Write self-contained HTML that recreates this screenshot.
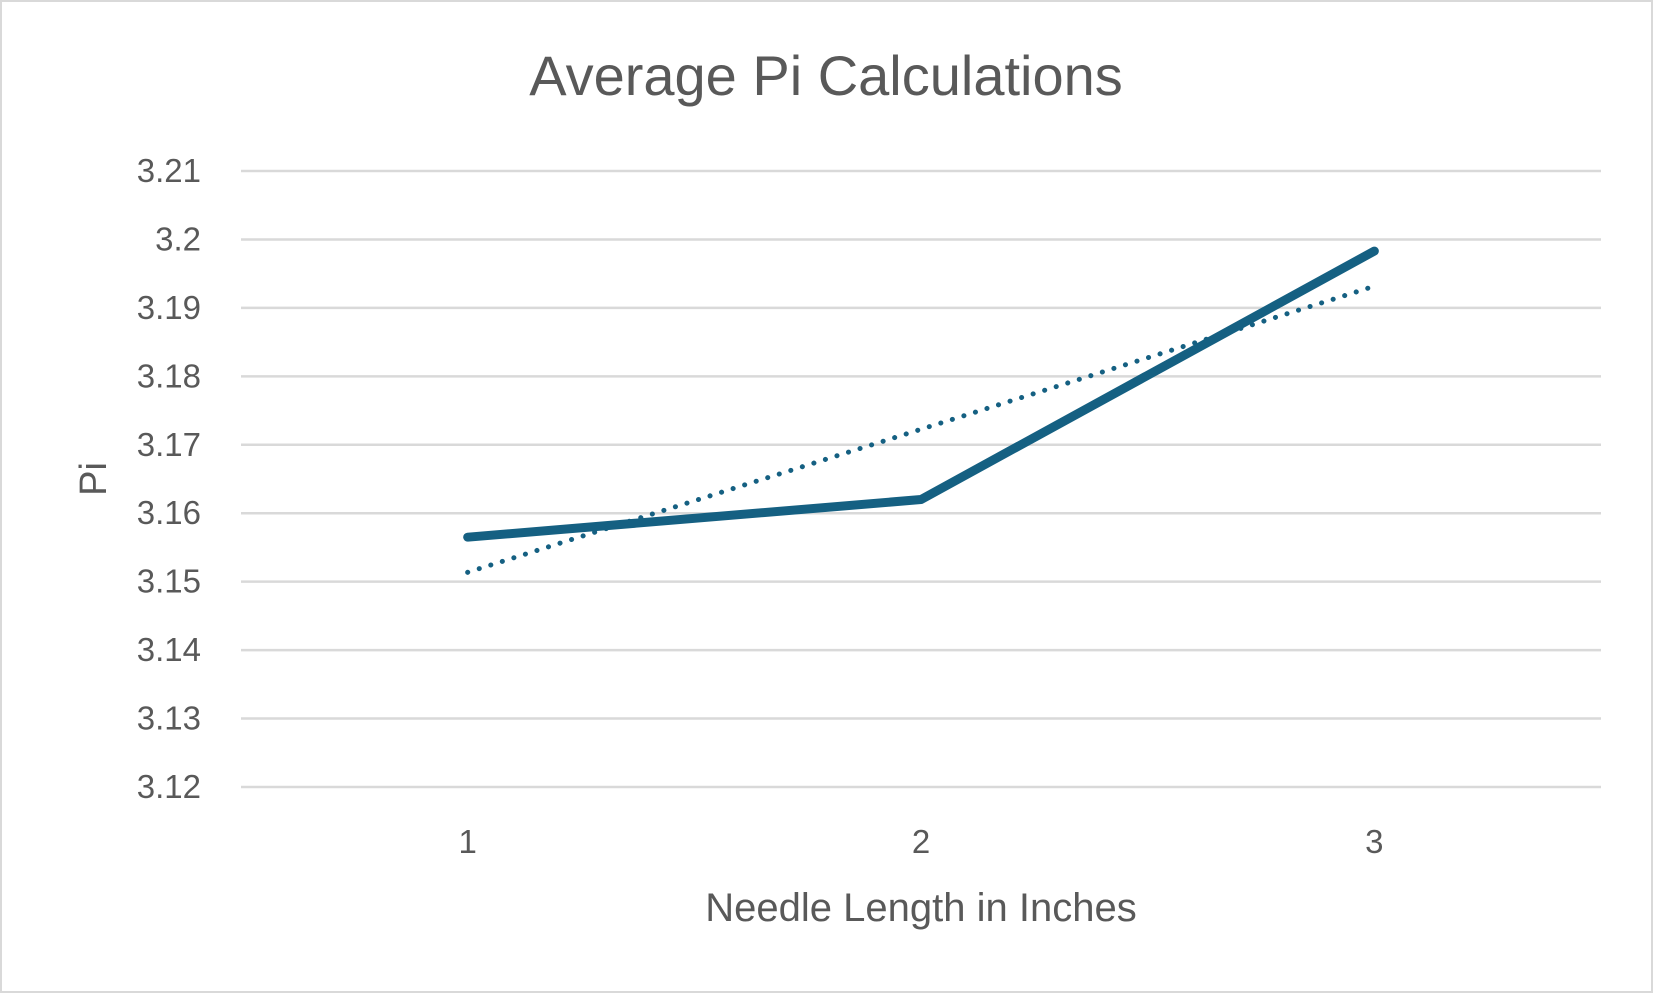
<!DOCTYPE html>
<html><head><meta charset="utf-8">
<style>
html,body{margin:0;padding:0;background:#fff;}
svg{display:block;font-family:"Liberation Sans",sans-serif;}
</style></head>
<body>
<svg id="chart" width="1653" height="993" viewBox="0 0 1653 993">
<rect x="1" y="1" width="1651" height="991" fill="#fff" stroke="#d9d9d9" stroke-width="2"/>
<text x="826" y="95" text-anchor="middle" font-size="56" fill="#595959">Average Pi Calculations</text>
<g id="grid"></g>
<g id="yticks"></g>
<g id="xticks"></g>
<text transform="translate(106,479) rotate(-90)" text-anchor="middle" font-size="38" fill="#595959">Pi</text>
<text x="921" y="921" text-anchor="middle" font-size="40" fill="#595959">Needle Length in Inches</text>
<g id="series"></g>
</svg>
<script>
const categories = [1, 2, 3];
const piValues = [3.1565, 3.162, 3.1983];
const yTickLabels = ["3.12","3.13","3.14","3.15","3.16","3.17","3.18","3.19","3.2","3.21"];
const yMin = 3.12, yMax = 3.21;
const NS = "http://www.w3.org/2000/svg";
const plotL = 241, plotR = 1601, plotT = 171, plotB = 787;
const catW = (plotR - plotL) / categories.length;
function xPos(i){ return plotL + catW * (i + 0.5); }
function yPos(v){ return plotB - (v - yMin) / (yMax - yMin) * (plotB - plotT); }
function mk(tag, attrs){ const e = document.createElementNS(NS, tag); for (const k in attrs) e.setAttribute(k, attrs[k]); return e; }
const grid = document.getElementById('grid'), yt = document.getElementById('yticks'), xt = document.getElementById('xticks'), ser = document.getElementById('series');
yTickLabels.forEach(t => {
  const v = parseFloat(t), y = yPos(v);
  const l = mk('line', {x1: plotL, x2: plotR, y1: y, y2: y, stroke: '#d9d9d9', 'stroke-width': 2.5});
  
  
  grid.appendChild(l);
  const tx = mk('text', {x: 201, y: y + 11, 'text-anchor': 'end', 'font-size': 33, fill: '#595959'});
  
  
  tx.textContent = t; yt.appendChild(tx);
});
categories.forEach((c, i) => {
  const tx = mk('text', {x: xPos(i), y: 853, 'text-anchor': 'middle', 'font-size': 33, fill: '#595959'});
  
  
  tx.textContent = c; xt.appendChild(tx);
});
const n = piValues.length;
const mx = categories.reduce((a,b)=>a+b,0)/n, my = piValues.reduce((a,b)=>a+b,0)/n;
let sxy = 0, sxx = 0;
categories.forEach((c,i)=>{ sxy += (c-mx)*(piValues[i]-my); sxx += (c-mx)*(c-mx); });
const slope = sxy/sxx, icpt = my - slope*mx;
const tr = mk('line', {x1: xPos(0), y1: yPos(icpt + slope*categories[0]), x2: xPos(n-1), y2: yPos(icpt + slope*categories[n-1]), stroke: '#156082', 'stroke-width': 5, 'stroke-dasharray': '0.1 12', 'stroke-linecap': 'round'});


ser.appendChild(tr);
const pts = piValues.map((v,i)=> xPos(i) + ',' + yPos(v)).join(' ');
const pl = mk('polyline', {points: pts, fill: 'none', stroke: '#156082', 'stroke-width': 9, 'stroke-linecap': 'round', 'stroke-linejoin': 'round'});


ser.appendChild(pl);
</script>
</body></html>
